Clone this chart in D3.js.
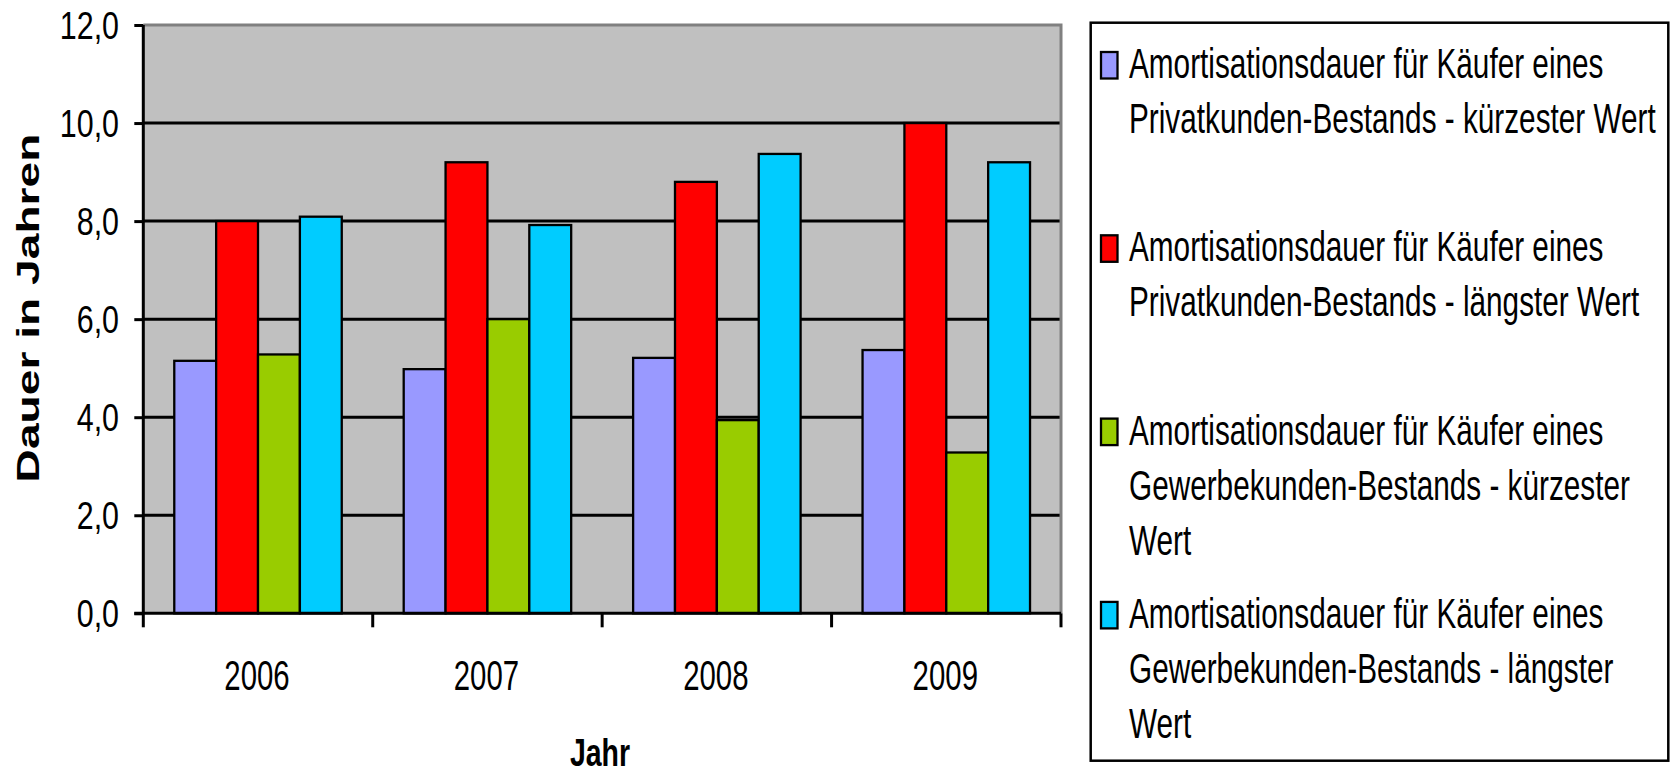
<!DOCTYPE html>
<html>
<head>
<meta charset="utf-8">
<script src="https://cdn.jsdelivr.net/npm/d3@7"></script>
<style>
	html, body { margin: 0; padding: 0; background: #fff; }
	svg { display: block; font-family: "Liberation Sans", Arial, sans-serif; }
</style>
</head>
<body>
<svg id="chart" width="1675" height="773"></svg>
<script>
// chart data
const years = ["2006", "2007", "2008", "2009"];
const seriesNames = [
	"Amortisationsdauer für Käufer eines Privatkunden-Bestands - kürzester Wert",
	"Amortisationsdauer für Käufer eines Privatkunden-Bestands - längster Wert",
	"Amortisationsdauer für Käufer eines Gewerbekunden-Bestands - kürzester Wert",
	"Amortisationsdauer für Käufer eines Gewerbekunden-Bestands - längster Wert"
];
const privatKurz = [5.15, 4.98, 5.21, 5.37];
const privatLang = [8.0, 9.2, 8.8, 10.0];
const gewerbeKurz = [5.28, 6.0, 3.94, 3.28];
const gewerbeLang = [8.09, 7.92, 9.37, 9.2];
const yTicks = [0, 2, 4, 6, 8, 10, 12];
const colors = ["#9999ff", "#ff0000", "#99cc00", "#00ccff"];

const series = [privatKurz, privatLang, gewerbeKurz, gewerbeLang];

const svg = d3.select("#chart");

const plot = {left: 143.3, right: 1061, top: 25, bottom: 613.3};

const x0 = d3.scaleBand()
.domain(years)
.range([plot.left, plot.right])
.padding(0);

const bw = x0.bandwidth();
const groupW = bw * 0.73;

const x1 = d3.scaleBand()
.domain(d3.range(series.length))
.range([(bw - groupW) / 2, (bw + groupW) / 2]);

const y = d3.scaleLinear()
.domain([0, 12])
.range([plot.bottom, plot.top]);

// plot background
svg.append("rect")
.attr("x", plot.left)
.attr("y", plot.top)
.attr("width", plot.right - plot.left)
.attr("height", plot.bottom - plot.top)
.attr("fill", "#c0c0c0");

// gridlines
svg.append("g")
.selectAll("line")
.data(yTicks.filter(d => d > 0 && d < 12))
.join("line")
.attr("x1", plot.left)
.attr("x2", plot.right)
.attr("y1", d => y(d))
.attr("y2", d => y(d))
.attr("stroke", "#000")
.attr("stroke-width", 3);

// plot border top / right
svg.append("path")
.attr("d", `M${plot.left},${plot.top}H${plot.right}V${plot.bottom}`)
.attr("fill", "none")
.attr("stroke", "#808080")
.attr("stroke-width", 3);

// bars
const rows = years.map((yr, i) => ({year: yr, values: series.map(s => s[i])}));

svg.append("g")
.selectAll("g")
.data(rows)
.join("g")
.attr("transform", d => `translate(${x0(d.year)},0)`)
.selectAll("rect")
.data(d => d.values.map((v, k) => ({k, v})))
.join("rect")
.attr("x", d => x1(d.k))
.attr("width", x1.bandwidth())
.attr("y", d => y(d.v))
.attr("height", d => y(0) - y(d.v))
.attr("fill", d => colors[d.k])
.attr("stroke", "#000")
.attr("stroke-width", 2.3);

// y axis
const yAxis = d3.axisLeft(y)
.tickValues(yTicks)
.tickSize(9)
.tickFormat("");

const gy = svg.append("g")
.attr("transform", `translate(${plot.left},0)`)
.call(yAxis);

gy.select(".domain").attr("stroke-width", 3).attr("d", `M0,${plot.bottom}V${plot.top}`);
gy.selectAll(".tick line").attr("stroke-width", 3);

svg.append("g")
.selectAll("text")
.data(yTicks)
.join("text")
.attr("transform", d => `translate(119,${y(d) + 14}) scale(0.79,1)`)
.attr("text-anchor", "end")
.attr("font-size", 38.5)
.text(d => d.toFixed(1).replace(".", ","));

// x axis
svg.append("line")
.attr("x1", plot.left - 9)
.attr("x2", plot.right)
.attr("y1", plot.bottom)
.attr("y2", plot.bottom)
.attr("stroke", "#000")
.attr("stroke-width", 3);

const xTickPos = years.map(d => x0(d)).concat([plot.right]);

svg.append("g")
.selectAll("line")
.data(xTickPos)
.join("line")
.attr("x1", d => d)
.attr("x2", d => d)
.attr("y1", plot.bottom)
.attr("y2", plot.bottom + 14)
.attr("stroke", "#000")
.attr("stroke-width", 3);

svg.append("g")
.selectAll("text")
.data(years)
.join("text")
.attr("transform", d => `translate(${x0(d) + bw / 2 - 1},690) scale(0.7,1)`)
.attr("text-anchor", "middle")
.attr("font-size", 42)
.text(d => d);

// axis titles
svg.append("text")
.attr("transform", `translate(600,766) scale(0.73,1)`)
.attr("text-anchor", "middle")
.attr("font-size", 39)
.attr("font-weight", "bold")
.text("Jahr");

svg.append("text")
.attr("transform", `translate(38.6,308) rotate(-90) scale(1.47,1)`)
.attr("text-anchor", "middle")
.attr("font-size", 31.4)
.attr("font-weight", "bold")
.text("Dauer in Jahren");

// legend
const legend = {x: 1090.7, y: 22.7, w: 577.6, h: 738};
svg.append("rect")
.attr("x", legend.x)
.attr("y", legend.y)
.attr("width", legend.w)
.attr("height", legend.h)
.attr("fill", "#fff")
.attr("stroke", "#000")
.attr("stroke-width", 2.5);

const sx = 0.7;
const maxW = 760;
const lineH = 55;

const items = svg.append("g")
.selectAll("g")
.data(seriesNames)
.join("g")
.attr("transform", (d, i) => `translate(0,${78 + i * 183.3})`);

items.append("rect")
.attr("x", 1101)
.attr("y", -26)
.attr("width", 16.5)
.attr("height", 26.5)
.attr("fill", (d, i) => colors[i])
.attr("stroke", "#000")
.attr("stroke-width", 2.3);

items.each(function(name) {
	const g = d3.select(this);
	const words = name.split(" ");
	const lines = [];
	const probe = g.append("text").attr("font-size", 42);
	let line = [];
	words.forEach(w => {
		const test = line.concat([w]).join(" ");
		probe.text(test);
		if (probe.node().getComputedTextLength() > maxW && line.length) {
			lines.push(line.join(" "));
			line = [w];
		} else {
			line.push(w);
		}
	});
	lines.push(line.join(" "));
	probe.remove();

	g.selectAll("text")
	.data(lines)
	.join("text")
	.attr("transform", (d, j) => `translate(1129,${j * lineH}) scale(${sx},1)`)
	.attr("font-size", 42.5)
	.text(d => d);
});
</script>
</body>
</html>
